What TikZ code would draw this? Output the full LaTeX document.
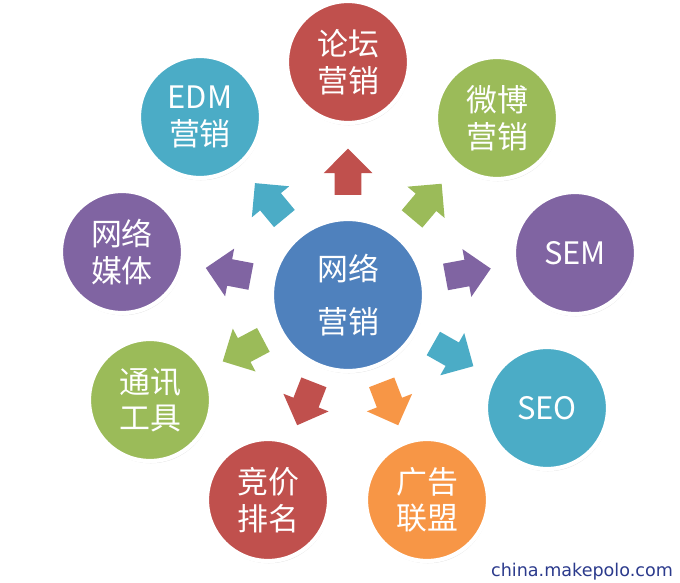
\documentclass[tikz,border=0pt]{standalone}
\usepackage{fontspec}
\newfontfamily\cjk{Noto Sans CJK SC}
\newfontfamily\webfont{DejaVu Sans}
\usetikzlibrary{shapes.arrows,shadows,calc}

\definecolor{mblue}{HTML}{4F81BD}
\definecolor{mred}{HTML}{C0504D}
\definecolor{mgreen}{HTML}{9BBB59}
\definecolor{mpurple}{HTML}{8064A2}
\definecolor{mteal}{HTML}{4BACC6}
\definecolor{morange}{HTML}{F79646}
\definecolor{mnavy}{HTML}{2B3A8C}

\begin{document}
\begin{tikzpicture}[
  x=0.025cm, y=-0.025cm,
  bubble/.style={circle, draw=white, line width=3pt, minimum size=3.05cm, inner sep=0pt,
                 text=white, align=center, font=\cjk\fontsize{22}{26}\selectfont,
                 drop shadow={opacity=0.25, shadow xshift=0.6pt, shadow yshift=-1.6pt}},
  hub/.style={bubble, minimum size=3.8cm},
  pusher/.style={single arrow, single arrow head extend=0.27cm, single arrow head indent=0pt,
                 minimum height=1.15cm, inner xsep=0pt, inner ysep=0.33cm, draw=none}
]
\useasboundingbox (0,0) rectangle (680,583);
% ----- hub -----
\node[hub, fill=mblue] (hub) at (348,295) {网络\\[12pt]营销};
% ----- ring of channels -----
\node[bubble, fill=mred]    (forum) at (348,62)  {论坛\\营销};
\node[bubble, fill=mgreen]  (weibo) at (497,118) {微博\\营销};
\node[bubble, fill=mpurple] (sem)   at (575,253) {SEM};
\node[bubble, fill=mteal]   (seo)   at (547,408) {SEO};
\node[bubble, fill=morange] (ads)   at (427,500) {广告\\联盟};
\node[bubble, fill=mred]    (bid)   at (268,500) {竞价\\排名};
\node[bubble, fill=mgreen]  (im)    at (150,400) {通讯\\工具};
\node[bubble, fill=mpurple] (media) at (122,252) {网络\\媒体};
\node[bubble, fill=mteal]   (edm)   at (200,117) {EDM\\营销};
% ----- block arrows, hub -> channel -----
\foreach \t/\c in {forum/mred, weibo/mgreen, sem/mpurple, seo/mteal, ads/morange,
                   bid/mred, im/mgreen, media/mpurple, edm/mteal}{
  \path let \p1=($(\t)-(hub)$), \n1={atan2(\y1,\x1)} in
    node[pusher, fill=\c, rotate=\n1] (a-\t) at ($(hub)!0.5!(\t)$) {};
}
% ----- watermark -----
\node[font=\webfont\fontsize{12.5}{14}\selectfont, text=mnavy] (mark) at (582,572) {china.makepolo.com};
\end{tikzpicture}
\end{document}
